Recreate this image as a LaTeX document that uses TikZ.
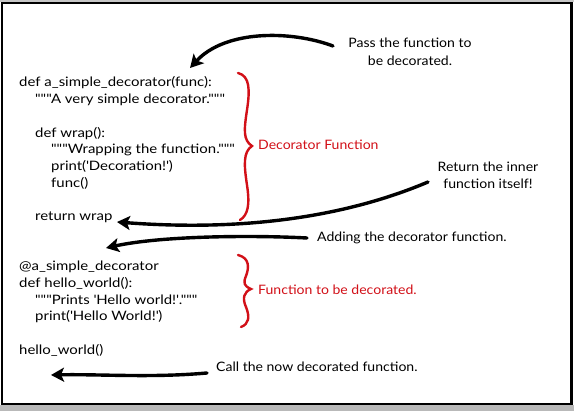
\documentclass[tikz,border=0pt]{standalone}
\usepackage{fontspec}
\setmainfont{Lato}
\newfontfamily\codefont{Lato}[FakeStretch=1.15]
\newfontfamily\notefont{Lato}[FakeStretch=1.08]
\usetikzlibrary{arrows.meta}
\definecolor{myred}{RGB}{210,16,24}
\newcommand{\sq}{\textquotesingle}
\begin{document}
\begin{tikzpicture}[x=1pt,y=-1pt,
  code/.style={anchor=base west,inner sep=0pt,font=\codefont\fontsize{13}{15}\selectfont},
  note/.style={inner sep=0pt,font=\notefont\fontsize{13}{15}\selectfont,align=center},
  rednote/.style={anchor=base west,inner sep=0pt,text=myred,font=\notefont\fontsize{13}{15}\selectfont},
  brace/.style={draw=myred,line width=2.4pt,line cap=round},
  arr/.style={draw=black,line width=3.4pt,line cap=round,-{Stealth[length=13pt,width=14pt,inset=3pt]}}]
\useasboundingbox (0,0) rectangle (574,411);
% frame and shadow
\fill[gray!45] (0,0) rectangle (574,2);
\fill[gray!55] (0,405) rectangle (574,411);
\fill[white] (3,4) rectangle (570,403);
\draw[line width=2.5pt] (2,3.2) rectangle (571.5,404);
% code
\node[code] (c1) at (19,87) {def a\_simple\_decorator(func):};
\node[code] (c2) at (35,103.7) {"""A very simple decorator."""};
\node[code] (c3) at (35,137.3) {def wrap():};
\node[code] (c4) at (51,154) {"""Wrapping the function."""};
\node[code] (c5) at (51,170.7) {print(\sq Decoration!\sq)};
\node[code] (c6) at (51,187.4) {func()};
\node[code] (c7) at (35,220.6) {return wrap};
\node[code] (c8) at (19,271) {@a\_simple\_decorator};
\node[code] (c9) at (19,287.7) {def hello\_world():};
\node[code] (c10) at (35,304.4) {"""Prints \sq Hello world!\sq."""};
\node[code] (c11) at (35,321) {print(\sq Hello World!\sq)};
\node[code] (c12) at (19,354.5) {hello\_world()};
% notes
\node[note,anchor=base] (n1) at (410,48) {Pass the function to};
\node[note,anchor=base] (n1b) at (410,66) {be decorated.};
\node[note,anchor=base] (n2) at (488,172) {Return the inner};
\node[note,anchor=base] (n2b) at (488,189) {function itself!};
\node[note,anchor=base west] (n3) at (317,242) {Adding the decorator function.};
\node[note,anchor=base west] (n4) at (216,372) {Call the now decorated function.};
\node[rednote] (r1) at (258,150) {Decorator Function};
\node[rednote] (r2) at (258,295) {Function to be decorated.};
% braces
\draw[brace] (238,73) .. controls (250,76) and (250,90) .. (247,110)
  .. controls (244,130) and (243,140) .. (252,146)
  .. controls (243,152) and (244,165) .. (247,185)
  .. controls (250,205) and (248,215) .. (240,220);
\draw[brace] (238,255) .. controls (250,258) and (249,268) .. (246,276)
  .. controls (243,283) and (244,286) .. (251,289)
  .. controls (244,292) and (242,298) .. (246,307)
  .. controls (250,317) and (249,324) .. (241,327);
% arrow end points
\coordinate (a1s) at (333,46);
\coordinate (a1e) at (190,68);
\coordinate (a2s) at (428,182);
\coordinate (a2e) at (117,222);
\coordinate (a3s) at (307,238);
\coordinate (a3e) at (106,248);
\coordinate (a4s) at (207,373);
\coordinate (a4e) at (51,375);
\draw[arr] (a1s) .. controls (290,30) and (225,30) .. (a1e);
\draw[arr] (a2s) .. controls (350,215) and (250,232) .. (a2e);
\draw[arr] (a3s) .. controls (250,235) and (160,236) .. (a3e);
\draw[arr] (a4s) .. controls (150,378) and (100,374) .. (a4e);
\end{tikzpicture}
\end{document}
